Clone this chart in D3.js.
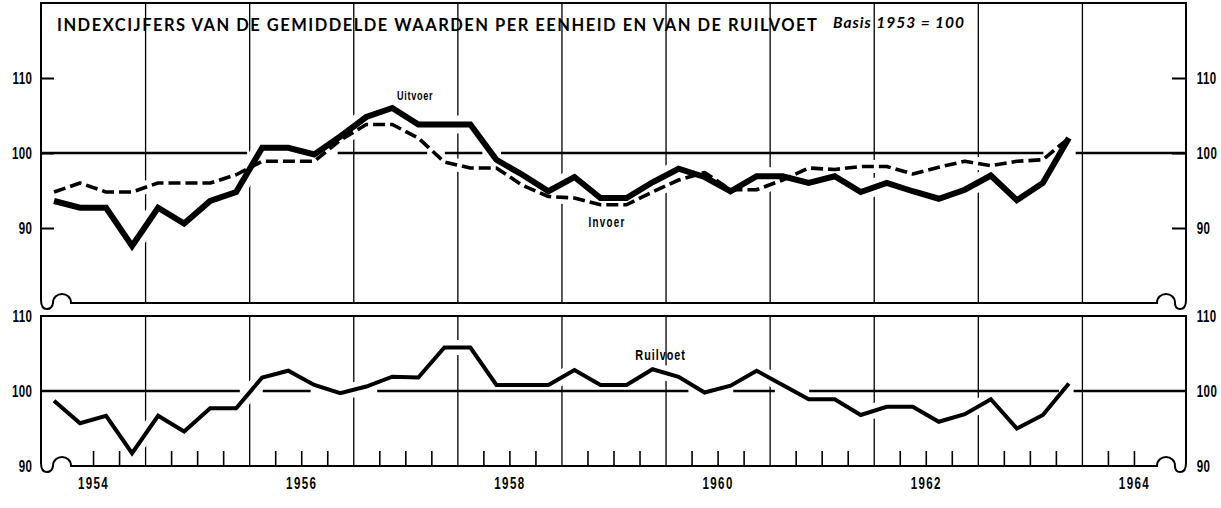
<!DOCTYPE html>
<html><head><meta charset="utf-8">
<script src="https://cdn.jsdelivr.net/npm/d3@7"></script>
<style>html,body{margin:0;padding:0;background:#fff;} svg{display:block}</style>
</head><body><svg id="c" width="1221" height="508"></svg>
<script>
// ---------- data (quarterly, 1954 Q1 .. 1963 Q4) ----------
const startYear = 1954;
const uitvoer = [93.6, 92.7, 92.7, 87.6,  92.7, 90.6, 93.6, 94.8,  100.7, 100.7, 99.8, 102.2,
                 104.8, 106.0, 103.8, 103.8,  103.8, 99.1, 97.1, 94.9,  96.8, 94.0, 94.0, 96.1,
                 97.9, 96.8, 94.9, 96.9,  96.9, 96.0, 96.9, 94.8,  96.0, 94.9, 93.9, 95.1,
                 97.0, 93.7, 96.0, 102.0];
const invoer  = [94.8, 96.0, 94.8, 94.8,  96.0, 96.0, 96.0, 97.1,  98.9, 98.9, 98.9, 101.7,
                 103.8, 103.8, 102.0, 98.8,  98.0, 98.0, 95.7, 94.2,  94.0, 93.1, 93.1, 94.8,
                 96.4, 97.4, 95.1, 95.1,  96.4, 98.0, 97.8, 98.2,  98.2, 97.2, 98.1, 98.9,
                 98.3, 98.9, 99.1, 102.0];
const ruilvoet = [98.7, 95.7, 96.7, 91.7,  96.7, 94.6, 97.7, 97.7,  101.8, 102.7, 100.8, 99.7,
                  100.6, 101.9, 101.8, 105.8,  105.8, 100.8, 100.8, 100.8,  102.8, 100.8, 100.8, 102.9,
                  101.9, 99.8, 100.7, 102.7,  100.8, 98.9, 98.9, 96.8,  97.9, 97.9, 95.9, 96.9,
                  98.9, 95.0, 96.8, 101.0];
const yTicks = [90, 100, 110];
const yearLabels = [1954, 1956, 1958, 1960, 1962, 1964];
const gridYears = [1955, 1956, 1957, 1958, 1959, 1960, 1961, 1962, 1963, 1964];
// visible pieces of the 100-reference line (years)
const ref100Top = [[1954, 1955.98], [1956.85, 1957.71], [1957.88, 1958.24], [1958.42, 1963.63], [1963.94, 1965]];
const ref100Bottom = [[1954, 1955.91], [1956.13, 1956.59], [1957.23, 1960.22], [1960.65, 1961.05], [1961.38, 1963.78], [1963.92, 1965]];
const titleText = "INDEXCIJFERS VAN DE GEMIDDELDE WAARDEN PER EENHEID EN VAN DE RUILVOET";
const basisText = "Basis 1953 = 100";
const seriesLabels = [
  {text: "Uitvoer", panel: "top", year: 1957.42, value: 107.1, size: 13, ls: 1},
  {text: "Invoer", panel: "top", year: 1959.26, value: 90.1, size: 14, ls: 1.8},
  {text: "Ruilvoet", panel: "bottom", year: 1959.71, value: 104.1, size: 15.5, ls: 1.4}
];

// ---------- layout ----------
const L = 41, R = 1186;
const topT = 3, topB = 303, botT = 316, botB = 466;
const svg = d3.select("#c");
const x = d3.scaleLinear().domain([1954, 1965]).range([L, R]);
const yTop = d3.scaleLinear().domain([80, 120]).range([topB, topT]);
const yBot = d3.scaleLinear().domain([90, 110]).range([botB, botT]);
const qx = i => startYear + (i + 0.5) / 4;
const condFont = "'Liberation Sans', Arial, sans-serif";
const SX = 0.7;

// ---------- vertical grid lines ----------
function grid(yBase, h) {
  svg.append("g").attr("transform", `translate(0,${yBase})`)
    .call(d3.axisBottom(x).tickValues(gridYears).tickSize(-h).tickFormat(""))
    .call(g => g.select(".domain").remove())
    .selectAll("line").attr("stroke", "#000").attr("stroke-width", 1.3);
}
grid(topB, topB - topT);
grid(botB, botB - botT);

// quarter ticks on bottom panel
const quarterTicks = d3.range(44).filter(k => k % 4 !== 0 && k !== 1 && k !== 43).map(k => 1954 + k / 4);
svg.append("g").attr("transform", `translate(0,${botB})`)
  .call(d3.axisBottom(x).tickValues(quarterTicks).tickSize(-15).tickFormat(""))
  .call(g => g.select(".domain").remove())
  .selectAll("line").attr("stroke", "#000").attr("stroke-width", 1.6);

// ---------- line generators ----------
const lineTop = d3.line().x((d, i) => x(qx(i))).y(d => yTop(d));
const lineBot = d3.line().x((d, i) => x(qx(i))).y(d => yBot(d));

// white halos (interrupt grid lines)
svg.append("path").attr("d", lineTop(invoer)).attr("fill", "none").attr("stroke", "#fff").attr("stroke-width", 13);
svg.append("path").attr("d", lineTop(uitvoer)).attr("fill", "none").attr("stroke", "#fff").attr("stroke-width", 18);
svg.append("path").attr("d", lineBot(ruilvoet)).attr("fill", "none").attr("stroke", "#fff").attr("stroke-width", 15);

// 100 reference lines
svg.append("g").selectAll("line").data(ref100Top).join("line")
  .attr("x1", d => x(d[0])).attr("x2", d => x(d[1]))
  .attr("y1", yTop(100)).attr("y2", yTop(100))
  .attr("stroke", "#000").attr("stroke-width", 2.4);
svg.append("g").selectAll("line").data(ref100Bottom).join("line")
  .attr("x1", d => x(d[0])).attr("x2", d => x(d[1]))
  .attr("y1", yBot(100)).attr("y2", yBot(100))
  .attr("stroke", "#000").attr("stroke-width", 2.4);

// data lines
svg.append("path").attr("d", lineTop(invoer)).attr("fill", "none").attr("stroke", "#000")
  .attr("stroke-width", 3.6).attr("stroke-dasharray", "12,5").attr("stroke-linejoin", "round");
svg.append("path").attr("d", lineTop(uitvoer)).attr("fill", "none").attr("stroke", "#000")
  .attr("stroke-width", 6).attr("stroke-linejoin", "miter");
svg.append("path").attr("d", lineBot(ruilvoet)).attr("fill", "none").attr("stroke", "#000")
  .attr("stroke-width", 4).attr("stroke-linejoin", "miter");

// ---------- panel frames with broken-axis symbols ----------
function frame(T, B) {
  const p = d3.path();
  p.moveTo(L, B - 3);
  p.lineTo(L, T);
  p.lineTo(R, T);
  p.lineTo(R, B - 3);
  p.quadraticCurveTo(R, B + 6, R - 6, B + 6);
  p.quadraticCurveTo(R - 11, B + 6, R - 11, B);
  p.bezierCurveTo(R - 11, B - 12, R - 29, B - 12, R - 29, B);
  p.lineTo(L + 30, B);
  p.bezierCurveTo(L + 30, B - 12, L + 12, B - 12, L + 12, B);
  p.quadraticCurveTo(L + 11, B + 6, L + 6, B + 6);
  p.quadraticCurveTo(L, B + 6, L, B - 3);
  svg.append("path").attr("d", p.toString()).attr("fill", "none")
    .attr("stroke", "#000").attr("stroke-width", 2);
}
frame(topT, topB);
frame(botT, botB);

// ---------- axes (labels) ----------
function styleAxisText(g) {
  g.select(".domain").remove();
  g.selectAll("text").attr("font-family", condFont).attr("font-weight", "bold")
    .attr("font-size", 16.5).attr("letter-spacing", 0.5).attr("fill", "#000")
    .attr("transform", `scale(${SX},1)`);
}
// top panel: left & right, with inward ticks at 90/110
svg.append("g").attr("transform", `translate(${L},0)`)
  .call(d3.axisLeft(yTop).tickValues(yTicks).tickSize(-13).tickPadding(12.5))
  .call(styleAxisText)
  .selectAll("line").attr("stroke", "#000").attr("stroke-width", 2);
svg.append("g").attr("transform", `translate(${R},0)`)
  .call(d3.axisRight(yTop).tickValues(yTicks).tickSize(-14).tickPadding(15.5))
  .call(styleAxisText)
  .selectAll("line").attr("stroke", "#000").attr("stroke-width", 2);
// bottom panel
svg.append("g").attr("transform", `translate(${L},0)`)
  .call(d3.axisLeft(yBot).tickValues(yTicks).tickSize(0).tickPadding(12.5))
  .call(styleAxisText);
svg.append("g").attr("transform", `translate(${R},0)`)
  .call(d3.axisRight(yBot).tickValues(yTicks).tickSize(0).tickPadding(15.5))
  .call(styleAxisText);
// year labels
svg.append("g").attr("transform", `translate(0,${botB})`)
  .call(d3.axisBottom(x).tickValues(yearLabels.map(y => y + 0.5)).tickSize(0).tickPadding(11)
    .tickFormat(d => String(Math.floor(d))))
  .call(g => g.select(".domain").remove())
  .selectAll("text").attr("font-family", condFont).attr("font-weight", "bold")
  .attr("font-size", 16.5).attr("letter-spacing", 2).attr("fill", "#000")
  .attr("transform", `scale(${SX},1)`);

// ---------- series labels ----------
seriesLabels.forEach(s => {
  const yy = s.panel === "top" ? yTop(s.value) : yBot(s.value);
  svg.append("text").attr("transform", `translate(${x(s.year)},${yy}) scale(${SX},1)`)
    .attr("font-family", condFont).attr("font-weight", "bold")
    .attr("font-size", s.size).attr("letter-spacing", s.ls).attr("fill", "#000")
    .text(s.text);
});

// ---------- title ----------
svg.append("text").attr("x", 57).attr("y", 31)
  .attr("font-family", "Lato, 'Open Sans', sans-serif").attr("font-weight", 700)
  .attr("font-size", 16.5).attr("textLength", 760).attr("lengthAdjust", "spacing")
  .attr("fill", "#000").text(titleText);
svg.append("text").attr("x", 833).attr("y", 27.5)
  .attr("font-family", "Lato, 'Open Sans', sans-serif").attr("font-weight", 700)
  .attr("font-style", "italic").attr("font-size", 15.5)
  .attr("textLength", 131).attr("lengthAdjust", "spacing")
  .attr("fill", "#000").text(basisText);
</script>
</body></html>
